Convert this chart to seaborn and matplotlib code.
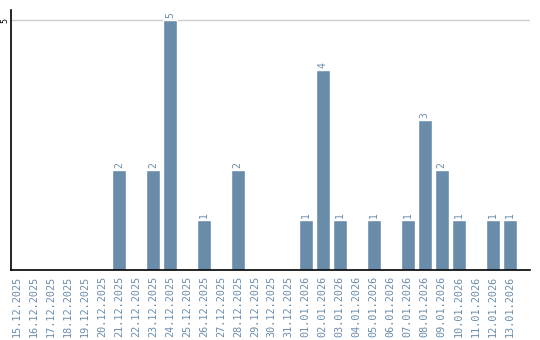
import matplotlib
matplotlib.use("Agg")
import matplotlib.pyplot as plt
import seaborn as sns
import pandas as pd

dates = ["15.12.2025", "16.12.2025", "17.12.2025", "18.12.2025", "19.12.2025",
         "20.12.2025", "21.12.2025", "22.12.2025", "23.12.2025", "24.12.2025",
         "25.12.2025", "26.12.2025", "27.12.2025", "28.12.2025", "29.12.2025",
         "30.12.2025", "31.12.2025", "01.01.2026", "02.01.2026", "03.01.2026",
         "04.01.2026", "05.01.2026", "06.01.2026", "07.01.2026", "08.01.2026",
         "09.01.2026", "10.01.2026", "11.01.2026", "12.01.2026", "13.01.2026"]
counts = [0, 0, 0, 0, 0, 0, 2, 0, 2, 5, 0, 1, 0, 2, 0, 0, 0, 1, 4, 1,
          0, 1, 0, 1, 3, 2, 1, 0, 1, 1]

bar_color = "#6a8cab"
text_color = "#6a8cab"

sns.set_style("white")
plt.rcParams['font.family'] = ['DejaVu Sans Mono', 'DejaVu Sans']

df = pd.DataFrame({"date": dates, "count": counts})

fig = plt.figure(figsize=(5.4, 3.4), dpi=100)
ax = fig.add_axes([11/540, 70/340, 519/540, 260/340])

sns.barplot(data=df, x="date", y="count", color=bar_color, saturation=1,
            width=0.82, ax=ax, order=dates)

for i, v in enumerate(counts):
    if v > 0:
        ax.text(i, v + 0.04, str(v), rotation=90, ha="center", va="bottom",
                fontsize=7, color=text_color)

ax.set_xlim(-0.35, 30.2)
ax.set_ylim(0, 5.2)
ax.set_yticks([5])
ax.set_yticklabels(["5"], rotation=90, va="center", fontsize=6, color="black")
ax.yaxis.grid(True, color="#cccccc", linewidth=1)
ax.set_axisbelow(True)
ax.tick_params(axis="y", length=0, pad=1)
ax.tick_params(axis="x", length=0, pad=4)
ax.set_xticks(range(len(dates)))
ax.set_xticklabels(dates, rotation=90, fontsize=7.3, color=text_color)
ax.set_xlabel("")
ax.set_ylabel("")
for s in ["top", "right"]:
    ax.spines[s].set_visible(False)
ax.spines["left"].set_color("black")
ax.spines["bottom"].set_color("black")
ax.spines["left"].set_linewidth(1.2)
ax.spines["bottom"].set_linewidth(1.2)

fig.savefig("out.png", dpi=100)
